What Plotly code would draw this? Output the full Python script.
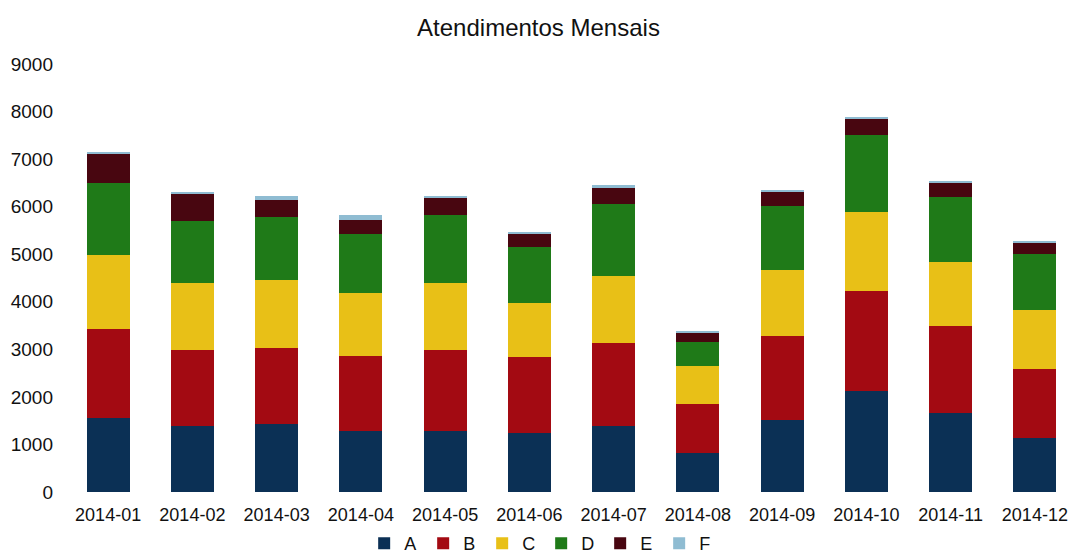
import plotly.graph_objects as go

months = ["2014-01", "2014-02", "2014-03", "2014-04", "2014-05", "2014-06",
          "2014-07", "2014-08", "2014-09", "2014-10", "2014-11", "2014-12"]
A = [1560, 1390, 1440, 1280, 1280, 1250, 1390, 830, 1520, 2130, 1660, 1140]
B = [1860, 1600, 1590, 1580, 1710, 1580, 1750, 1030, 1770, 2100, 1840, 1440]
C = [1560, 1400, 1430, 1330, 1400, 1140, 1400, 800, 1380, 1650, 1330, 1250]
D = [1510, 1310, 1330, 1230, 1430, 1190, 1520, 500, 1340, 1630, 1370, 1180]
E = [630, 580, 360, 310, 360, 270, 330, 190, 300, 350, 310, 230]
F = [20, 10, 80, 100, 50, 20, 60, 20, 30, 30, 30, 20]

series = [("A", A, "#0b3055"), ("B", B, "#a30a12"), ("C", C, "#e8c017"),
          ("D", D, "#1f7a18"), ("E", E, "#480610"), ("F", F, "#8fbcd2")]

fig = go.Figure()
for name, vals, col in series:
    fig.add_trace(go.Bar(x=months, y=vals, name=name, marker_color=col,
                         marker_line_width=0))

fig.update_layout(
    barmode="stack",
    bargap=0.49,
    width=1077, height=557,
    paper_bgcolor="white", plot_bgcolor="white",
    font=dict(family="Liberation Sans, Arial, sans-serif", size=18, color="#111"),
    title=dict(text="Atendimentos Mensais", x=0.5, xanchor="center", y=0.95,
               yanchor="middle", font=dict(size=24, color="#111")),
    margin=dict(l=66, r=0, t=64, b=65),
    showlegend=True,
    legend=dict(orientation="h", x=0.47, xanchor="center", yref="container",
                y=0.024, yanchor="middle", font=dict(size=18),
                traceorder="normal", itemwidth=30, entrywidth=14),
    xaxis=dict(type="category", showgrid=False, showline=False, ticks="",
               tickfont=dict(size=18), automargin=False, ticklabelstandoff=10),
    yaxis=dict(range=[0, 9000], dtick=1000, showgrid=False, zeroline=False,
               showline=False, ticks="", tickfont=dict(size=19),
               ticklabelstandoff=12, automargin=False),
)

fig.write_html("out.html", config={"displayModeBar": False},
               post_script="document.body.style.margin='0';"
                           "document.body.style.overflow='hidden';")
